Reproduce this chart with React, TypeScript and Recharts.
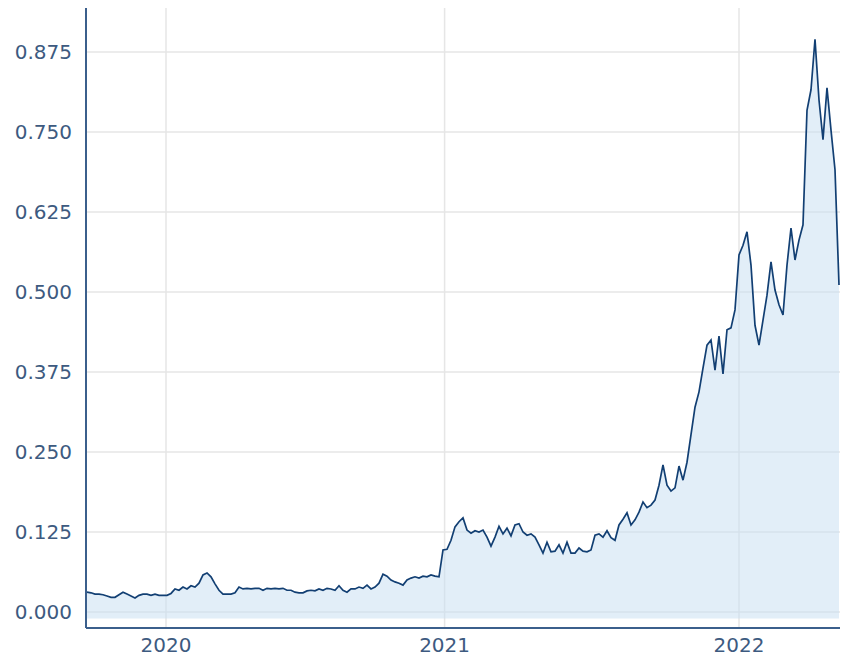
import { AreaChart, Area, XAxis, YAxis, CartesianGrid } from "recharts";

// price samples, every 4px (index-based x)
const prices = [
  0.031, 0.030, 0.028, 0.028, 0.027, 0.025, 0.023, 0.023, 0.027, 0.031,
  0.028, 0.025, 0.022, 0.026, 0.028, 0.028, 0.026, 0.028, 0.026, 0.026,
  0.026, 0.029, 0.036, 0.034, 0.039, 0.036, 0.041, 0.039, 0.045, 0.058,
  0.061, 0.055, 0.044, 0.034, 0.028, 0.028, 0.028, 0.030, 0.039, 0.036,
  0.037, 0.036, 0.037, 0.037, 0.034, 0.037, 0.036, 0.037, 0.036, 0.037,
  0.034, 0.034, 0.031, 0.030, 0.030, 0.033, 0.034, 0.033, 0.036, 0.034,
  0.037, 0.036, 0.034, 0.041, 0.034, 0.031, 0.036, 0.036, 0.039, 0.037,
  0.042, 0.036, 0.039, 0.045, 0.059, 0.056, 0.050, 0.047, 0.045, 0.042,
  0.050, 0.053, 0.055, 0.053, 0.056, 0.055, 0.058, 0.056, 0.055, 0.097,
  0.098, 0.112,
  0.133, 0.141, 0.147, 0.128, 0.123, 0.127, 0.125, 0.128, 0.117, 0.103,
  0.117, 0.134, 0.122, 0.131, 0.119, 0.136, 0.138, 0.125, 0.120, 0.122,
  0.117, 0.105, 0.092, 0.109, 0.094, 0.095, 0.105, 0.092, 0.109, 0.092,
  0.092, 0.100, 0.095, 0.094, 0.097, 0.120, 0.122, 0.117, 0.127, 0.116,
  0.112, 0.136, 0.145, 0.155, 0.136, 0.144, 0.156,
  0.172, 0.163, 0.167, 0.175, 0.198, 0.230, 0.198, 0.189, 0.194, 0.228,
  0.206, 0.234, 0.277, 0.320, 0.344, 0.381, 0.417, 0.425, 0.378, 0.431,
  0.372, 0.441, 0.444, 0.472, 0.558, 0.573, 0.594, 0.542, 0.448, 0.417,
  0.456, 0.495, 0.547, 0.503, 0.480, 0.464, 0.542, 0.600, 0.550, 0.581,
  0.605, 0.784, 0.816, 0.895, 0.800, 0.738, 0.819, 0.753, 0.691, 0.511,
];

// where each year starts, in sample index
const yearTicks = [19.75, 89.4, 163];
const yearLabels = ["2020", "2021", "2022"];

const yTicks = [0, 0.125, 0.25, 0.375, 0.5, 0.625, 0.75, 0.875];

const data = prices.map((v, i) => ({ i, v }));

const axisColor = "#3b5f8c";
const labelColor = "#3d5a80";
const font = "'DejaVu Sans', Verdana, sans-serif";

export default function App() {
  return (
    <div style={{ position: "absolute", left: 0, top: 0, background: "#fff" }}>
      <AreaChart
        width={843}
        height={661}
        data={data}
        margin={{ top: 8, right: 3, bottom: 0, left: 0 }}
      >
        <CartesianGrid
          stroke="#e6e6e6"
          strokeWidth={1.5}
          horizontalValues={yTicks}
          verticalValues={yearTicks}
        />
        <XAxis
          dataKey="i"
          type="number"
          domain={[-0.25, 188.25]}
          ticks={yearTicks}
          tickFormatter={(t) => yearLabels[yearTicks.indexOf(t)]}
          height={33}
          tickSize={0}
          tickMargin={10}
          stroke={axisColor}
          strokeWidth={2}
          tick={{ fill: labelColor, fontSize: 20, fontFamily: font }}
          allowDataOverflow
        />
        <YAxis
          type="number"
          domain={[-0.025, 0.94375]}
          ticks={yTicks}
          tickFormatter={(v) => v.toFixed(3)}
          width={86}
          tickSize={0}
          tickMargin={14}
          stroke={axisColor}
          strokeWidth={2}
          tick={{ fill: labelColor, fontSize: 20, fontFamily: font }}
          allowDataOverflow
        />
        <Area
          type="linear"
          dataKey="v"
          baseValue={-0.01}
          stroke="#123f73"
          strokeWidth={1.7}
          fill="#c6ddf2"
          fillOpacity={0.5}
          dot={false}
          activeDot={false}
          isAnimationActive={false}
        />
      </AreaChart>
    </div>
  );
}
